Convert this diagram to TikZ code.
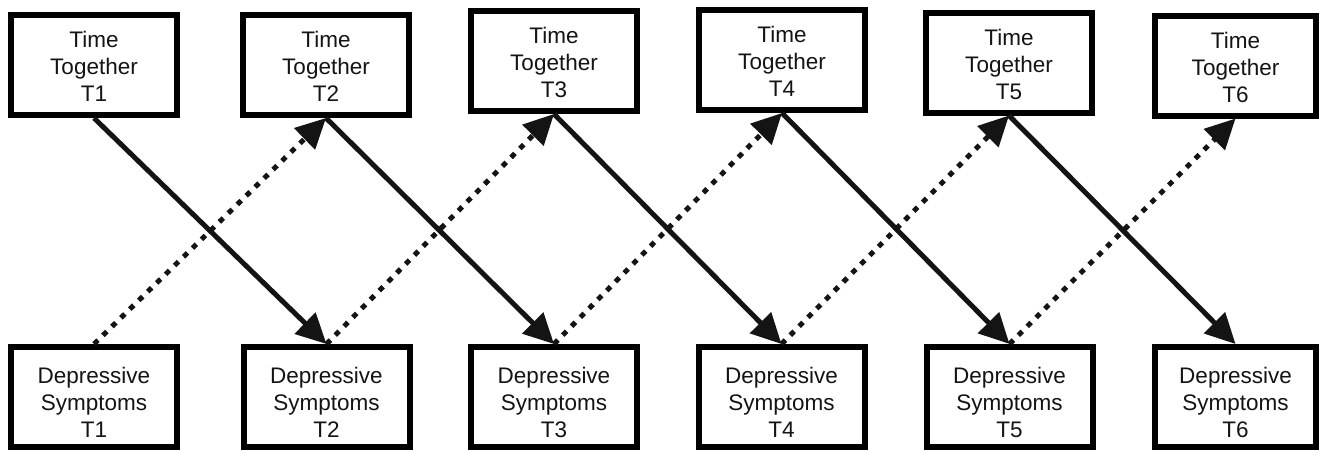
\documentclass[tikz,border=0pt]{standalone}
\usepackage{fontspec}
\setmainfont{Liberation Sans}
\usetikzlibrary{arrows.meta}
\newcommand\threelines[4]{\raisebox{#4}[\height][\depth]{\begin{tabular}{@{}c@{}}#1\\#2\\#3\end{tabular}}}
\begin{document}
\begin{tikzpicture}[x=1pt,y=-1pt,
  box/.style={draw=black, line width=6pt, minimum width=166pt, minimum height=100pt,
    inner sep=0pt, fill=white, font=\fontsize{22.5}{27}\selectfont, text={rgb,255:red,20;green,20;blue,20}},
  solidarr/.style={draw={rgb,255:red,20;green,20;blue,20}, line width=5pt,
    -{Triangle[length=30pt,width=29pt]}},
  dotarr/.style={solidarr, dash pattern=on 5.5pt off 7pt}]
\useasboundingbox (0,0) rectangle (1319,450);
% top row
\node[box] (t1) at (94,65)     {\threelines{Time}{Together}{T1}{-4.5pt}};
\node[box] (t2) at (326,65)    {\threelines{Time}{Together}{T2}{-4.5pt}};
\node[box] (t3) at (554,61)    {\threelines{Time}{Together}{T3}{-4.5pt}};
\node[box] (t4) at (782,60)    {\threelines{Time}{Together}{T4}{-4.5pt}};
\node[box] (t5) at (1009,62.5) {\threelines{Time}{Together}{T5}{-4.5pt}};
\node[box, minimum width=161pt] (t6) at (1235.5,65.5) {\threelines{Time}{Together}{T6}{-4.5pt}};
% bottom row
\node[box] (d1) at (94,397)     {\threelines{Depressive}{Symptoms}{T1}{-8pt}};
\node[box] (d2) at (326.5,397)  {\threelines{Depressive}{Symptoms}{T2}{-8pt}};
\node[box] (d3) at (554,397)    {\threelines{Depressive}{Symptoms}{T3}{-8pt}};
\node[box] (d4) at (781.5,397)  {\threelines{Depressive}{Symptoms}{T4}{-8pt}};
\node[box] (d5) at (1009.5,397) {\threelines{Depressive}{Symptoms}{T5}{-8pt}};
\node[box, minimum width=161pt] (d6) at (1235.5,397) {\threelines{Depressive}{Symptoms}{T6}{-8pt}};
% cross-lagged paths
\foreach \a/\b in {1/2,2/3,3/4,4/5,5/6}{
  \draw[solidarr] (t\a.south) -- (d\b.north);
  \draw[dotarr] (d\a.north) -- (t\b.south);
}
\end{tikzpicture}
\end{document}
